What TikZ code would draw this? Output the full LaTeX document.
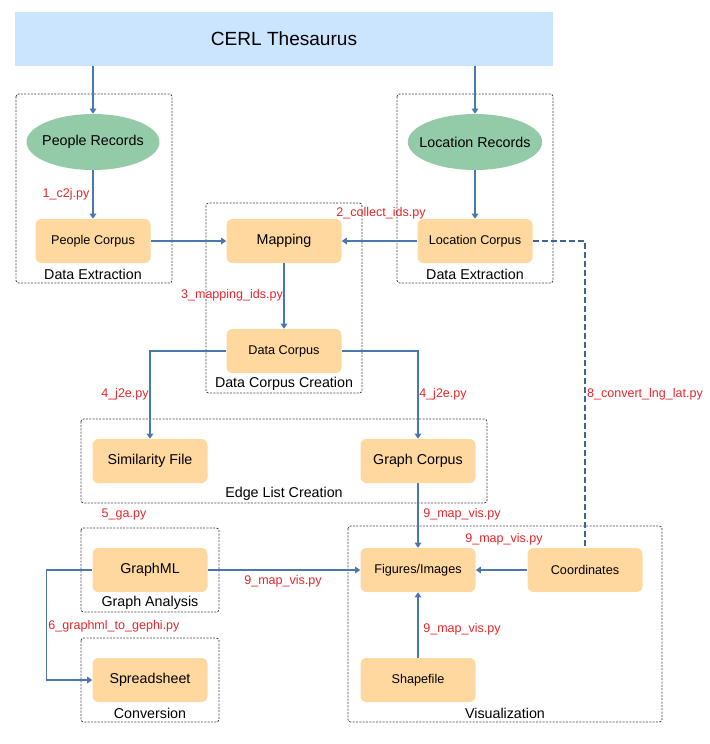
\documentclass[tikz,border=0pt]{standalone}
\usepackage{fontspec}
\setmainfont{Liberation Sans}
\usetikzlibrary{shapes.geometric,arrows.meta}
\definecolor{titleblue}{HTML}{CCE5FF}
\definecolor{recgreen}{HTML}{93CBA9}
\definecolor{boxorange}{HTML}{FFD8A0}
\definecolor{linkblue}{HTML}{4A78AC}
\definecolor{scriptred}{HTML}{E4262A}
\begin{document}
\begin{tikzpicture} [
                x=0.75pt, y=-0.75pt,
                record/.style={ellipse,fill=recgreen,minimum width=99.75pt,minimum height=42pt,inner xsep=-6pt,inner ysep=0pt,font=\fontsize{10.7}{12}\selectfont},
                box/.style={rectangle,rounded corners=4.5pt,fill=boxorange,minimum width=86.25pt,minimum height=33pt,inner sep=0pt},
                bigtext/.style={font=\fontsize{10.7}{12}\selectfont},
                smalltext/.style={font=\fontsize{9.5}{11}\selectfont},
                group/.style={draw=black!75,line width=0.6pt,dash pattern=on 1.5pt off 1pt,rounded corners=2pt},
                group label/.style={font=\fontsize{10.7}{12}\selectfont,inner sep=0pt},
                script/.style={text=scriptred,font=\fontsize{9.4}{11}\selectfont,inner sep=0pt},
                link/.style={draw=linkblue,line width=0.8pt,-{Triangle[width=5pt,length=3.8pt]}},
                dashed link/.style={draw=linkblue!85!black,line width=1.4pt,dash pattern=on 4.5pt off 2.25pt},
            ]
            \useasboundingbox (0,0) rectangle (710,744);
            % First we draw the dotted groups with their names
            \foreach \corner/\size/\pos/\name/\label in {
                    {(16,94)/(172,283)/(93,274)/dea/Data Extraction},
                    {(397,94)/(553,283)/(475,274)/deb/Data Extraction},
                    {(206,203)/(362,393)/(284,384)/dcc/Data Corpus Creation},
                    {(81,419)/(487,503)/(284,494)/elc/Edge List Creation},
                    {(81,528)/(219,612)/(150,603)/gan/Graph Analysis},
                    {(81,638)/(219,722)/(150,713)/con/Conversion},
                    {(348,526)/(662,722)/(505,713)/vis/Visualization}} {
                \draw[group] \corner rectangle \size;
                \node[group label] (\name) at \pos {\label};
            }
            % Then the source, the records and the files
            \node[fill=titleblue,minimum width=403.5pt,minimum height=40.5pt,font=\fontsize{14.3}{16}\selectfont] (cerl) at (284,39) {CERL Thesaurus};
            \node[record] (pr) at (93,142) {People Records};
            \node[record] (lr) at (475,142) {Location Records};
            \foreach \pos/\name/\size/\label in {
                    {(93,241)/pc/smalltext/People Corpus},
                    {(284,241)/map/bigtext/Mapping},
                    {(475,241)/lc/smalltext/Location Corpus},
                    {(284,351)/dc/smalltext/Data Corpus},
                    {(150,461)/sf/bigtext/Similarity File},
                    {(418,461)/gc/bigtext/Graph Corpus},
                    {(150,570)/gml/bigtext/GraphML},
                    {(418,570)/fig/smalltext/{Figures/Images}},
                    {(585,570)/coo/smalltext/Coordinates},
                    {(150,680)/ss/bigtext/Spreadsheet},
                    {(418,680)/shp/smalltext/Shapefile}}
                \node[box,\size] (\name) at \pos {\label};
            % Connect them
            \draw[link] (cerl.south -| pr) -- (pr);
            \draw[link] (cerl.south -| lr) -- (lr);
            \foreach \source/ \dest in {
                    pr/pc, lr/lc,
                    pc/map, lc/map,
                    map/dc,
                    gc/fig, coo/fig, shp/fig, gml/fig}
                \draw[link] (\source) -- (\dest);
            \draw[link] (dc.west) -| (sf.north);
            \draw[link] (dc.east) -| (gc.north);
            \draw[link] (gml.west) -- ++(-46,0) |- (ss.west);
            \draw[dashed link] (lc.east) -| (coo.north);
            % Script names
            \foreach \pos/\name/\label in {
                    {(66,194)/sa/1\_c2j.py},
                    {(381,213)/sb/2\_collect\_ids.py},
                    {(232,295)/sc/3\_mapping\_ids.py},
                    {(125,394)/sd/4\_j2e.py},
                    {(443,394)/se/4\_j2e.py},
                    {(124,514)/sf5/5\_ga.py},
                    {(114,626)/sg/6\_graphml\_to\_gephi.py},
                    {(645,394)/sh/8\_convert\_lng\_lat.py},
                    {(462,514)/si/9\_map\_vis.py},
                    {(504,539)/sj/9\_map\_vis.py},
                    {(283,581)/sk/9\_map\_vis.py},
                    {(462,629)/sl/9\_map\_vis.py}}
                \node[script] (\name) at \pos {\label};
        \end{tikzpicture}
\end{document}
